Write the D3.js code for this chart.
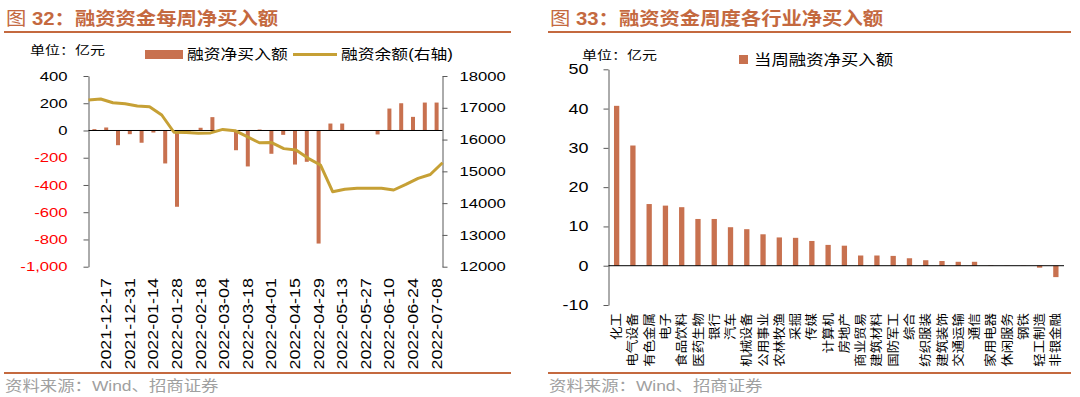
<!DOCTYPE html>
<html>
<head>
<meta charset="utf-8">
<script src="https://cdn.jsdelivr.net/npm/d3@7"></script>
<style>
  body { margin: 0; background: #fff; }
  svg { display: block; font-family: "Liberation Sans", "Noto Sans CJK SC", Arial, sans-serif; }
</style>
</head>
<body>
<svg id="chart" width="1080" height="397"></svg>
<script>
/* data: weekly margin financing */
const dates = ["2021-12-10", "2021-12-17", "2021-12-24", "2021-12-31", "2022-01-07", "2022-01-14",
  "2022-01-21", "2022-01-28", "2022-02-11", "2022-02-18", "2022-02-25", "2022-03-04", "2022-03-11",
  "2022-03-18", "2022-03-25", "2022-04-01", "2022-04-08", "2022-04-15", "2022-04-22", "2022-04-29",
  "2022-05-06", "2022-05-13", "2022-05-20", "2022-05-27", "2022-06-03", "2022-06-10", "2022-06-17",
  "2022-06-24", "2022-07-01", "2022-07-08"];
const netBuy = [10, 22, -108, -27, -90, -15, -242, -560, -8, 20, 98, 3, -145, -264, 7, -171, -32,
  -250, -230, -830, 51, 51, 2, -3, -29, 161, 200, 100, 205, 205];
const balance = [17245, 17277, 17160, 17130, 17057, 17035, 16773, 16230, 16220, 16200, 16210, 16320,
  16280, 16090, 15900, 15905, 15715, 15673, 15410, 15200, 14360, 14435, 14465, 14465, 14465, 14413,
  14590, 14780, 14900, 15270];
const leftTicks = [-1000, -800, -600, -400, -200, 0, 200, 400];
const rightTicks = [12000, 13000, 14000, 15000, 16000, 17000, 18000];

/* data: industry net buy this week */
const industries = ["化工", "电气设备", "有色金属", "电子", "食品饮料", "医药生物", "银行", "汽车",
  "机械设备", "公用事业", "农林牧渔", "采掘", "传媒", "计算机", "房地产", "商业贸易", "建筑材料",
  "国防军工", "综合", "纺织服装", "建筑装饰", "交通运输", "通信", "家用电器", "休闲服务", "钢铁",
  "轻工制造", "非银金融"];
const industryBuy = [40.7, 30.6, 15.7, 15.3, 14.9, 11.9, 11.9, 9.8, 9.3, 8.0, 7.2, 7.1, 6.3, 5.3, 5.1,
  2.6, 2.6, 2.5, 1.9, 1.4, 1.2, 1.0, 1.0, 0.1, 0.05, -0.05, -0.5, -2.9];
const industryTicks = [-10, 0, 10, 20, 30, 40, 50];

/* colours */
const barColor = "#C8714F",
  lineColor = "#C6A035",
  titleColor = "#C4693F",
  sourceColor = "#A0A0A0",
  axisColor = "#595959";

const svg = d3.select("#chart");

// glyphs in the reference are wide: stretch each text along its own direction
function stretch(sel, k) {
  sel.each(function() {
    const t = d3.select(this);
    const x = +t.attr("x") || 0,
      y = +t.attr("y") || 0;
    t.attr("x", null).attr("y", null)
      .attr("transform", `translate(${x},${y}) scale(${k},1)`);
  });
}

function label(g, x, y, txt, size, k, opts = {}) {
  return g.append("text")
    .attr("transform", `translate(${x},${y}) scale(${k},1)`)
    .attr("font-size", size)
    .attr("font-weight", opts.weight || "normal")
    .attr("fill", opts.fill || "#000")
    .attr("text-anchor", opts.anchor || "start")
    .text(txt);
}

function frame(g, x0, x1, num, title, source) {
  const t = label(g, x0 + 2, 25, "", 18, 1.13, { weight: "bold", fill: titleColor });
  t.append("tspan").attr("font-weight", "normal").text("图 ");
  t.append("tspan").text(num + "：" + title);
  g.append("line").attr("x1", x0).attr("x2", x1).attr("y1", 32).attr("y2", 32)
    .attr("stroke", titleColor).attr("stroke-width", 2);
  g.append("line").attr("x1", x0).attr("x2", x1).attr("y1", 373).attr("y2", 373)
    .attr("stroke", titleColor).attr("stroke-width", 2);
  label(g, x0 + 1, 391, source, 14.5, 1.2, { fill: sourceColor });
}

function styleAxis(ax) {
  ax.select(".domain").attr("stroke", axisColor);
  ax.selectAll(".tick line").attr("stroke", axisColor);
  ax.selectAll(".tick text").attr("font-size", 13).attr("fill", "#000");
}

/* ---------- left chart ---------- */
const L = svg.append("g");
frame(L, 4, 511, "32", "融资资金每周净买入额", "资料来源：Wind、招商证券");

const xBand = d3.scaleBand().domain(dates).range([88.5, 442.5]),
  xPoint = d3.scalePoint().domain(dates).range([88.5, 442.5]),
  yL = d3.scaleLinear().domain([-1000, 400]).range([266.7, 76]),
  yR = d3.scaleLinear().domain([12000, 18000]).range([266.7, 76]);

const axL = L.append("g").attr("transform", "translate(88.5,0)")
  .call(d3.axisLeft(yL).tickValues(leftTicks).tickSize(5).tickSizeOuter(0).tickPadding(16)
    .tickFormat(d => d3.format(",")(d).replace("\u2212", "-")));
styleAxis(axL);
axL.selectAll(".tick text").attr("fill", d => (d < 0 ? "#FF0000" : "#000"));
stretch(axL.selectAll(".tick text"), 1.28);

const axR = L.append("g").attr("transform", "translate(442.5,0)")
  .call(d3.axisRight(yR).tickValues(rightTicks).tickSize(5).tickSizeOuter(0).tickPadding(12)
    .tickFormat(d3.format("d")));
styleAxis(axR);
stretch(axR.selectAll(".tick text"), 1.28);

const bw = 4;
L.append("g").selectAll("rect").data(netBuy).join("rect")
  .attr("x", (d, i) => xBand(dates[i]) + (xBand.bandwidth() - bw) / 2)
  .attr("y", d => yL(Math.max(0, d)))
  .attr("width", bw)
  .attr("height", d => Math.abs(yL(d) - yL(0)))
  .attr("fill", barColor);

L.append("line").attr("x1", 88.5).attr("x2", 442.5)
  .attr("y1", yL(0)).attr("y2", yL(0)).attr("stroke", "#000");

L.append("path").datum(balance)
  .attr("fill", "none").attr("stroke", lineColor).attr("stroke-width", 3)
  .attr("stroke-linejoin", "round")
  .attr("d", d3.line().x((d, i) => xPoint(dates[i])).y(d => yR(d)));

L.append("g").selectAll("text").data(dates.filter((d, i) => i % 2 === 1)).join("text")
  .attr("transform", d => `translate(${xBand(d) + xBand.bandwidth() / 2},278) rotate(-90) scale(1.28,1)`)
  .attr("text-anchor", "end").attr("dy", "0.35em").attr("font-size", 14)
  .text(d => d);

// legend
label(L, 30, 55, "单位：亿元", 12, 1.25);
L.append("rect").attr("x", 145).attr("y", 50).attr("width", 38).attr("height", 9).attr("fill", barColor);
label(L, 187, 59, "融资净买入额", 14, 1.2);
L.append("line").attr("x1", 293).attr("x2", 337).attr("y1", 54.5).attr("y2", 54.5)
  .attr("stroke", lineColor).attr("stroke-width", 3);
label(L, 341, 59, "融资余额(右轴)", 14, 1.2);

/* ---------- right chart ---------- */
const R = svg.append("g");
frame(R, 548, 1071, "33", "融资资金周度各行业净买入额", "资料来源：Wind、招商证券");

const xB2 = d3.scaleBand().domain(industries).range([608.5, 1064]),
  y2 = d3.scaleLinear().domain([-10, 50]).range([305, 69.3]);

const ax2 = R.append("g").attr("transform", "translate(608.5,0)")
  .call(d3.axisLeft(y2).tickValues(industryTicks).tickSize(5).tickSizeOuter(0).tickPadding(15)
    .tickFormat(d => String(d)));
styleAxis(ax2);
ax2.selectAll(".tick text").attr("font-size", 14);
stretch(ax2.selectAll(".tick text"), 1.28);

const bw2 = 5.3;
R.append("g").selectAll("rect").data(industryBuy).join("rect")
  .attr("x", (d, i) => xB2(industries[i]) + (xB2.bandwidth() - bw2) / 2)
  .attr("y", d => y2(Math.max(0, d)))
  .attr("width", bw2)
  .attr("height", d => Math.abs(y2(d) - y2(0)))
  .attr("fill", barColor);

R.append("line").attr("x1", 608.5).attr("x2", 1064)
  .attr("y1", y2(0)).attr("y2", y2(0)).attr("stroke", "#000");

R.append("g").selectAll("text").data(industries).join("text")
  .attr("transform", d => `translate(${xB2(d) + xB2.bandwidth() / 2},313) rotate(-90) scale(1.12,1)`)
  .attr("text-anchor", "end").attr("dy", "0.38em").attr("font-size", 12)
  .text(d => d);

label(R, 582, 60, "单位：亿元", 12, 1.25);
R.append("rect").attr("x", 739).attr("y", 55).attr("width", 9).attr("height", 9).attr("fill", barColor);
label(R, 754, 65, "当周融资净买入额", 14.5, 1.2);
</script>
</body>
</html>
